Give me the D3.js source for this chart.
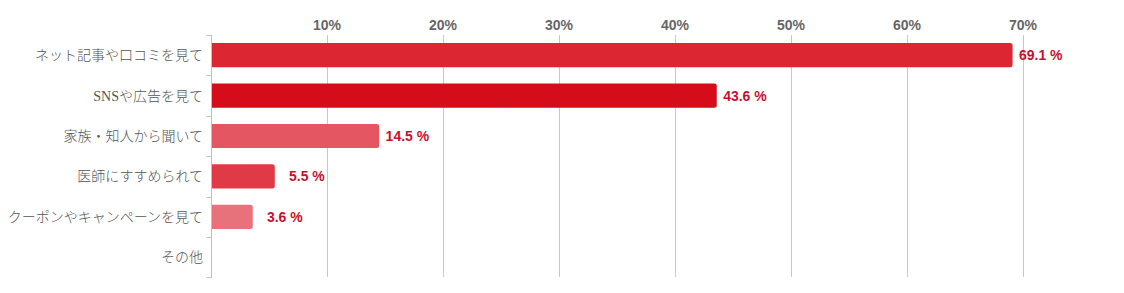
<!DOCTYPE html>
<html>
<head>
<meta charset="utf-8">
<script src="https://cdn.jsdelivr.net/npm/d3@7"></script>
<style>
  body { margin: 0; background: #fff; }
  svg { display: block; }
</style>
</head>
<body>
<svg id="chart" width="1124" height="293" viewBox="0 0 1124 293"></svg>
<script>
// data
const categories = ["ネット記事や口コミを見て", "SNSや広告を見て", "家族・知人から聞いて",
  "医師にすすめられて", "クーポンやキャンペーンを見て", "その他"]
const values = [69.1, 43.6, 14.5, 5.5, 3.6, 0]
const barColors = ["#dc2733", "#d50d1a", "#e45661", "#e03a46", "#e8727b", "#e8727b"]
const tickValues = [10, 20, 30, 40, 50, 60, 70]

const svg = d3.select("#chart")

const x = d3.scaleLinear().domain([0, 70]).range([211, 1023])
const y = d3.scaleBand().domain(categories).range([35, 277.4]).paddingInner(0.4).paddingOuter(0.2)

// grid lines
svg.append("g")
  .selectAll("line")
  .data(tickValues)
  .enter()
  .append("line")
  .attr("x1", d => Math.round(x(d)) + 0.5)
  .attr("x2", d => Math.round(x(d)) + 0.5)
  .attr("y1", 35)
  .attr("y2", 277)
  .attr("stroke", "#c8c8c8")
  .attr("stroke-width", 1)

// top tick labels
svg.append("g")
  .selectAll("text")
  .data(tickValues)
  .enter()
  .append("text")
  .attr("x", d => x(d))
  .attr("y", 30)
  .attr("text-anchor", "middle")
  .attr("font-family", "Liberation Sans, Arial, sans-serif")
  .attr("font-weight", "bold")
  .attr("font-size", 14)
  .attr("fill", "#666")
  .text(d => d + "%")

// left axis line and category ticks
const axisX = 211.5
svg.append("line")
  .attr("x1", axisX).attr("x2", axisX)
  .attr("y1", 35).attr("y2", 278)
  .attr("stroke", "#b4c3d3")
const bandEdges = categories.map(c => y(c) - y.step() * y.paddingInner() / 2)
bandEdges.push(277.4)
svg.append("g")
  .selectAll("line")
  .data(bandEdges)
  .enter()
  .append("line")
  .attr("x1", axisX - 5).attr("x2", axisX)
  .attr("y1", d => Math.round(d) + 0.5)
  .attr("y2", d => Math.round(d) + 0.5)
  .attr("stroke", "#b4c3d3")

// bars with rounded right end
function barPath(x0, y0, w, h, r) {
  if (w <= 0) return ""
  r = Math.min(r, w)
  return `M${x0},${y0}H${x0 + w - r}Q${x0 + w},${y0} ${x0 + w},${y0 + r}` +
    `V${y0 + h - r}Q${x0 + w},${y0 + h} ${x0 + w - r},${y0 + h}H${x0}Z`
}

svg.append("g")
  .selectAll("path")
  .data(values)
  .enter()
  .append("path")
  .attr("d", (d, i) => barPath(x(0) + 1, y(categories[i]), x(d) - x(0) - 1, y.bandwidth(), 2.5))
  .attr("fill", (d, i) => barColors[i])

// value labels (right aligned 50px after bar end)
svg.append("g")
  .selectAll("text")
  .data(values)
  .enter()
  .filter(d => d > 0)
  .append("text")
  .attr("x", d => x(d) + 50)
  .attr("y", (d, i) => y(categories[values.indexOf(d)]) + y.bandwidth() / 2 + 5)
  .attr("text-anchor", "end")
  .attr("font-family", "Liberation Sans, Arial, sans-serif")
  .attr("font-weight", "bold")
  .attr("font-size", 14)
  .attr("fill", "#c8102e")
  .text(d => d.toFixed(1) + " %")

// category labels
svg.append("g")
  .selectAll("text")
  .data(categories)
  .enter()
  .append("text")
  .attr("x", 203)
  .attr("y", d => y(d) + y.bandwidth() / 2 + 5)
  .attr("text-anchor", "end")
  .attr("font-family", "'Liberation Serif', 'Noto Sans CJK JP', serif")
  .attr("font-weight", 300)
  .attr("font-size", 14)
  .attr("fill", "#555")
  .text(d => d)
</script>
</body>
</html>
